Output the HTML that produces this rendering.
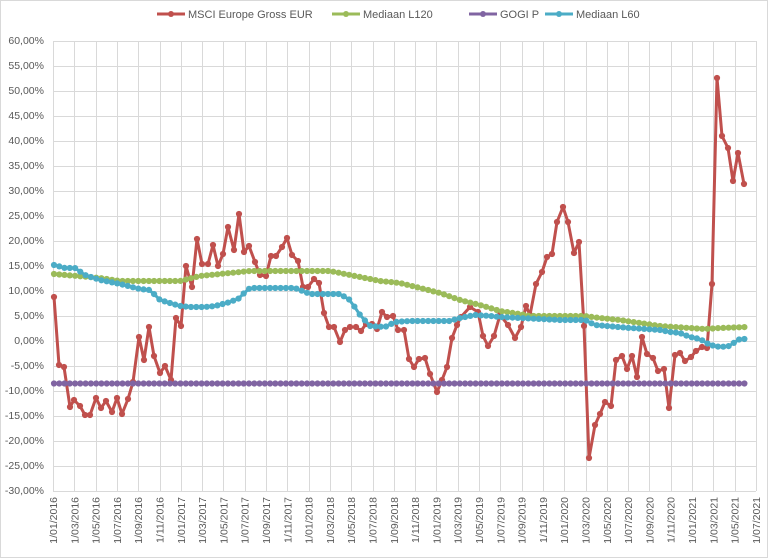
<!DOCTYPE html>
<html><head><meta charset="utf-8"><style>
html,body{margin:0;padding:0;background:#fff;}
svg{display:block;font-family:"Liberation Sans",sans-serif;}
</style></head><body>
<svg id="s" width="768" height="558" viewBox="0 0 768 558" xmlns="http://www.w3.org/2000/svg">
<rect x="0.5" y="0.5" width="767" height="557" fill="#fff" stroke="#d9d9d9"/>
<g id="grid" stroke="#d9d9d9" stroke-width="1"></g>
<g font-size="10.5" fill="#595959" text-anchor="end">
<text x="44" y="44">60,00%</text><text x="44" y="69">55,00%</text><text x="44" y="94">50,00%</text>
<text x="44" y="119">45,00%</text><text x="44" y="144">40,00%</text><text x="44" y="169">35,00%</text>
<text x="44" y="194">30,00%</text><text x="44" y="219">25,00%</text><text x="44" y="244">20,00%</text>
<text x="44" y="269">15,00%</text><text x="44" y="294">10,00%</text><text x="44" y="319">5,00%</text>
<text x="44" y="344">0,00%</text><text x="44" y="369">-5,00%</text><text x="44" y="394">-10,00%</text>
<text x="44" y="419">-15,00%</text><text x="44" y="444">-20,00%</text><text x="44" y="469">-25,00%</text>
<text x="44" y="494">-30,00%</text>
</g>
<g id="xl" font-size="10.5" fill="#595959" text-anchor="end">
<text data-i="0">1/01/2016</text><text data-i="1">1/03/2016</text><text data-i="2">1/05/2016</text><text data-i="3">1/07/2016</text><text data-i="4">1/09/2016</text><text data-i="5">1/11/2016</text>
<text data-i="6">1/01/2017</text><text data-i="7">1/03/2017</text><text data-i="8">1/05/2017</text><text data-i="9">1/07/2017</text><text data-i="10">1/09/2017</text><text data-i="11">1/11/2017</text>
<text data-i="12">1/01/2018</text><text data-i="13">1/03/2018</text><text data-i="14">1/05/2018</text><text data-i="15">1/07/2018</text><text data-i="16">1/09/2018</text><text data-i="17">1/11/2018</text>
<text data-i="18">1/01/2019</text><text data-i="19">1/03/2019</text><text data-i="20">1/05/2019</text><text data-i="21">1/07/2019</text><text data-i="22">1/09/2019</text><text data-i="23">1/11/2019</text>
<text data-i="24">1/01/2020</text><text data-i="25">1/03/2020</text><text data-i="26">1/05/2020</text><text data-i="27">1/07/2020</text><text data-i="28">1/09/2020</text><text data-i="29">1/11/2020</text>
<text data-i="30">1/01/2021</text><text data-i="31">1/03/2021</text><text data-i="32">1/05/2021</text><text data-i="33">1/07/2021</text>
</g>
<g id="series"></g>
<g font-size="11" fill="#595959">
<line x1="157" y1="14" x2="185" y2="14" stroke="#c0504d" stroke-width="3"/><circle cx="171" cy="14" r="3" fill="#c0504d"/>
<text x="188" y="18">MSCI Europe Gross EUR</text>
<line x1="332" y1="14" x2="360" y2="14" stroke="#9bbb59" stroke-width="3"/><circle cx="346" cy="14" r="3" fill="#9bbb59"/>
<text x="363" y="18">Mediaan L120</text>
<line x1="469" y1="14" x2="497" y2="14" stroke="#8064a2" stroke-width="3"/><circle cx="483" cy="14" r="3" fill="#8064a2"/>
<text x="500" y="18">GOGI P</text>
<line x1="545" y1="14" x2="573" y2="14" stroke="#4bacc6" stroke-width="3"/><circle cx="559" cy="14" r="3" fill="#4bacc6"/>
<text x="576" y="18">Mediaan L60</text>
</g>
</svg>
<script>
var NS="http://www.w3.org/2000/svg";
function el(t,a,p){var e=document.createElementNS(NS,t);for(var k in a)e.setAttribute(k,a[k]);p.appendChild(e);return e;}
var g=document.getElementById('grid');
var X0=53,DX=21.3;
for(var i=0;i<19;i++){var y=41+i*25;el('line',{x1:X0,x2:X0+33*DX,y1:y+.5,y2:y+.5},g);}
for(var i=0;i<=33;i++){var x=Math.round(X0+i*DX)+.5;el('line',{x1:x,x2:x,y1:41,y2:491},g);}
document.querySelectorAll('#xl text').forEach(function(t){var i=+t.getAttribute('data-i');var x=X0+i*DX+4;t.setAttribute('transform','translate('+x+',497) rotate(-90)');});
var S=document.getElementById('series');
function draw(pts,col){
 el('polyline',{points:pts.map(function(p){return p.join(',')}).join(' '),fill:'none',stroke:col,'stroke-width':3,'stroke-linejoin':'round'},S);
 pts.forEach(function(p){el('circle',{cx:p[0],cy:p[1],r:3.1,fill:col},S);});
}
function resample(k){var out=[];for(var x=54;x<=746.5;x+=5.27){var j=0;while(j<k.length-2&&k[j+1][0]<x)j++;var a=k[j],b=k[j+1];var t=(x-a[0])/(b[0]-a[0]);t=Math.max(0,Math.min(1,t));out.push([x.toFixed(1),(a[1]+(b[1]-a[1])*t).toFixed(1)]);}return out;}
var purple=resample([[54,383.5],[746,383.5]]);
var green=resample([[54,274],[100,278],[120,281],[180,281],[200,276],[230,273],[250,271],[330,271],[340,273],[355,276],[380,281],[400,283],[420,288],[440,293],[460,300],[480,305],[500,311],[520,314],[530,316],[585,316],[600,318],[620,320],[640,323],[660,326],[690,328],[705,329],[720,328],[746,327]]);
var blue=resample([[54,265],[65,268],[75,268],[85,275],[100,280],[120,284],[140,289],[150,290],[160,300],[170,303],[180,306],[190,307],[205,307],[215,306],[230,302],[240,298],[245,292],[250,288],[295,288],[300,290],[310,294],[340,294],[350,300],[360,315],[370,326],[385,327],[395,322],[410,321],[450,321],[460,318],[475,315],[490,316],[500,317],[560,320],[585,320],[595,325],[630,328],[660,330],[670,332],[680,333],[690,337],[700,339],[705,342],[710,345],[720,347],[730,346],[735,342],[740,339],[746,339]]);
var red=[[54,297],[59,365],[64,367],[70,407],[74,400],[80,406],[85,415],[90,415],[96,398],[101,408],[106,401],[112,412],[117,398],[122,414],[128,399],[133,382],[139,337],[144,360],[149,327],[154,356],[160,373],[165,366],[171,380],[176,318],[181,326],[186,266],[192,287],[197,239],[202,264],[208,264],[213,245],[218,266],[223,254],[228,227],[234,250],[239,214],[244,252],[249,246],[255,262],[260,275],[266,276],[271,256],[276,256],[282,247],[287,238],[292,255],[298,261],[303,287],[308,287],[314,279],[319,283],[324,313],[329,327],[334,327],[340,342],[345,330],[350,327],[356,327],[361,331],[366,324],[372,324],[377,329],[382,312],[387,317],[393,316],[398,330],[404,330],[409,359],[414,367],[419,359],[425,358],[430,374],[437,392],[442,380],[447,367],[452,338],[457,325],[461,317],[470,307],[478,312],[483,336],[488,346],[494,336],[500,315],[508,325],[515,338],[521,327],[526,306],[530,315],[536,284],[542,272],[547,257],[552,254],[557,222],[563,207],[568,222],[574,253],[579,242],[584,326],[589,458],[595,425],[600,414],[605,402],[611,406],[616,360],[622,356],[627,369],[632,356],[637,377],[642,337],[647,354],[653,358],[658,371],[664,369],[669,408],[675,355],[680,353],[685,361],[691,357],[696,351],[702,347],[707,348],[712,284],[717,78],[722,136],[728,148],[733,181],[738,153],[744,184]];
draw(red,'#c0504d');draw(green,'#9bbb59');draw(purple,'#8064a2');draw(blue,'#4bacc6');
</script>
</body></html>
